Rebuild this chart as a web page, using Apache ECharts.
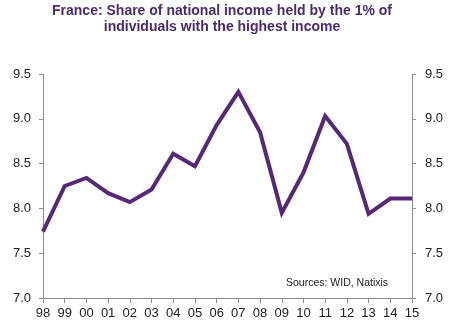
<!DOCTYPE html>
<html><head><meta charset="utf-8">
<script src="https://cdn.jsdelivr.net/npm/echarts@6/dist/echarts.min.js"></script>
<style>html,body{margin:0;padding:0;background:#fff}#c{width:460px;height:330px}</style>
</head><body><div id="c"></div>
<script>
var titleLines = ['France: Share of national income held by the 1% of', 'individuals with the highest income'];
var sourceText = 'Sources: WID, Natixis';
var years = ['98','99','00','01','02','03','04','05','06','07','08','09','10','11','12','13','14','15'];
var shareTop1 = [7.74,8.25,8.34,8.17,8.07,8.21,8.61,8.47,8.93,9.30,8.85,7.95,8.40,9.03,8.72,7.94,8.11,8.11];
var yMin = 7.0, yMax = 9.5, yStep = 0.5;

var chart = echarts.init(document.getElementById('c'), null, {renderer:'canvas'});
var axisLine = {show:true, lineStyle:{color:'#8c8c8c', width:1}};
var yLabel = {color:'#222', fontSize:13, fontFamily:'Liberation Sans, Arial, sans-serif', formatter:function(v){return v.toFixed(1);}};
chart.setOption({
  animation:false,
  title:{text:titleLines.join('\n'), left:217, textAlign:'center', top:-2,
    textStyle:{color:'#4b2a6d', fontSize:14, fontWeight:'bold', fontFamily:'Liberation Sans, Arial, sans-serif', lineHeight:16}},
  grid:{left:43, right:48, top:74, bottom:32},
  xAxis:{type:'category', data:years, boundaryGap:false,
    axisLine:axisLine, axisTick:{show:true, alignWithLabel:true, length:5, lineStyle:{color:'#8c8c8c'}},
    axisLabel:{color:'#222', fontSize:13, fontFamily:'Liberation Sans, Arial, sans-serif', margin:9, interval:0},
    splitLine:{show:false}},
  yAxis:[
    {type:'value', min:yMin, max:yMax, interval:yStep, position:'left',
     axisLine:axisLine, axisTick:{show:true, length:4, lineStyle:{color:'#8c8c8c'}},
     axisLabel:Object.assign({margin:12}, yLabel), splitLine:{show:false}},
    {type:'value', min:yMin, max:yMax, interval:yStep, position:'right',
     axisLine:axisLine, axisTick:{show:true, length:4, lineStyle:{color:'#8c8c8c'}},
     axisLabel:Object.assign({margin:13}, yLabel), splitLine:{show:false}}
  ],
  graphic:[{type:'text', left:286, top:278, style:{text:sourceText, fill:'#222', font:'10.5px Liberation Sans, Arial, sans-serif'}}],
  series:[{type:'line', data:shareTop1, yAxisIndex:0, symbol:'none', lineStyle:{color:'#572877', width:4, join:'miter'}}]
});
</script></body></html>
